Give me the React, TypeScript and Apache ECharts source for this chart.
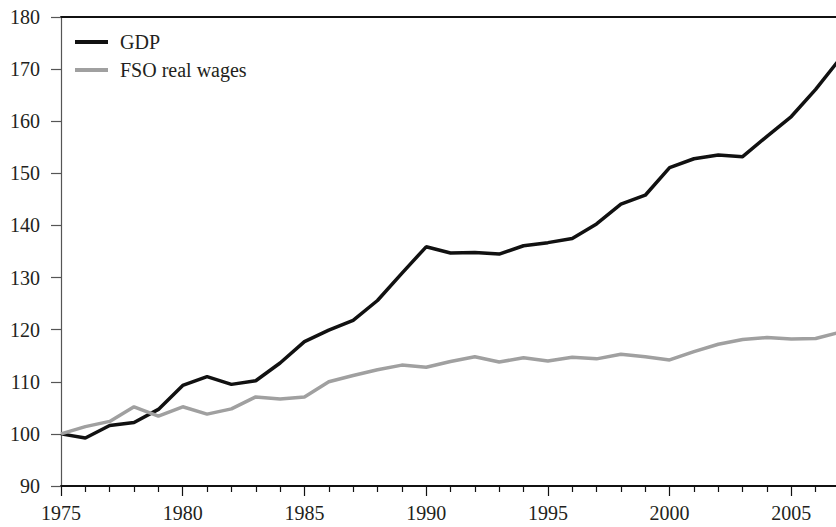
import React, { useEffect, useRef } from "react";
import * as echarts from "echarts";

const years: number[] = [
  1975, 1976, 1977, 1978, 1979, 1980, 1981, 1982, 1983, 1984, 1985, 1986, 1987, 1988, 1989, 1990,
  1991, 1992, 1993, 1994, 1995, 1996, 1997, 1998, 1999, 2000, 2001, 2002, 2003, 2004, 2005, 2006, 2007,
];
const gdp: number[] = [
  100, 99.2, 101.6, 102.2, 104.7, 109.3, 111.0, 109.5, 110.2, 113.6, 117.7, 119.9, 121.8, 125.6,
  130.8, 135.9, 134.7, 134.8, 134.5, 136.1, 136.7, 137.5, 140.3, 144.1, 145.8, 151.1, 152.8, 153.5,
  153.2, 157.1, 160.9, 166.1, 172.0,
];
const wages: number[] = [
  100, 101.4, 102.4, 105.2, 103.4, 105.2, 103.8, 104.8, 107.1, 106.7, 107.1, 110.0, 111.2, 112.3,
  113.2, 112.8, 113.9, 114.8, 113.8, 114.6, 114.0, 114.7, 114.4, 115.3, 114.8, 114.2, 115.8, 117.2,
  118.1, 118.5, 118.2, 118.3, 119.5,
];
const seriesNames: string[] = ["GDP", "FSO real wages"];

const FONT = "Liberation Serif";
const TEXT = "#231f20";

export default function App() {
  const ref = useRef<HTMLDivElement>(null);
  useEffect(() => {
    if (!ref.current) return;
    const chart = echarts.init(ref.current, undefined, { renderer: "svg" });
    chart.setOption({
      animation: false,
      backgroundColor: "#ffffff",
      textStyle: { fontFamily: FONT, color: TEXT },
      grid: { left: 61, top: 17, right: -4, bottom: 41, outerBoundsMode: "none", containLabel: false },
      legend: {
        orient: "vertical",
        left: 75,
        top: 32,
        padding: 0,
        itemWidth: 33,
        itemHeight: 4,
        itemGap: 8,
        icon: "rect",
        textStyle: { fontFamily: FONT, fontSize: 20, color: TEXT, lineHeight: 20, padding: [0, 0, 0, 7] },
        data: seriesNames,
      },
      xAxis: [
        {
          type: "value",
          min: 1975,
          max: 2007,
          interval: 5,
          position: "bottom",
          axisLine: { show: true, lineStyle: { color: "#111", width: 2 } },
          axisTick: { show: true, inside: false, length: 10, lineStyle: { color: "#111", width: 1.2 } },
          minorTick: { show: true, splitNumber: 5, length: 6, lineStyle: { color: "#111", width: 1.2 } },
          splitLine: { show: false },
          axisLabel: {
            fontFamily: FONT,
            fontSize: 20,
            color: TEXT,
            margin: 17,
            showMaxLabel: false,
            hideOverlap: false,
            formatter: (v: number) => String(v),
          },
        },
        {
          type: "value",
          min: 1975,
          max: 2007,
          interval: 5,
          position: "top",
          axisLine: { show: true, lineStyle: { color: "#111", width: 2 } },
          axisTick: { show: false },
          axisLabel: { show: false },
          splitLine: { show: false },
        },
      ],
      yAxis: {
        type: "value",
        min: 90,
        max: 180,
        interval: 10,
        axisLine: { show: true, lineStyle: { color: "#555", width: 1.2 } },
        axisTick: { show: true, inside: false, length: 10, lineStyle: { color: "#555", width: 1.2 } },
        splitLine: { show: false },
        axisLabel: { fontFamily: FONT, fontSize: 20, color: TEXT, margin: 21 },
      },
      series: [
        {
          name: seriesNames[0],
          type: "line",
          data: years.map((y, i) => [y, gdp[i]]),
          showSymbol: false,
          symbol: "none",
          itemStyle: { color: "#111111" },
          lineStyle: { color: "#111111", width: 3.5 },
        },
        {
          name: seriesNames[1],
          type: "line",
          data: years.map((y, i) => [y, wages[i]]),
          showSymbol: false,
          symbol: "none",
          itemStyle: { color: "#a0a0a0" },
          lineStyle: { color: "#a0a0a0", width: 3.5 },
        },
      ],
    });
    return () => chart.dispose();
  }, []);
  return (
    <div
      ref={ref}
      style={{ position: "fixed", left: 0, top: 0, width: 836, height: 527, background: "#fff" }}
    />
  );
}
